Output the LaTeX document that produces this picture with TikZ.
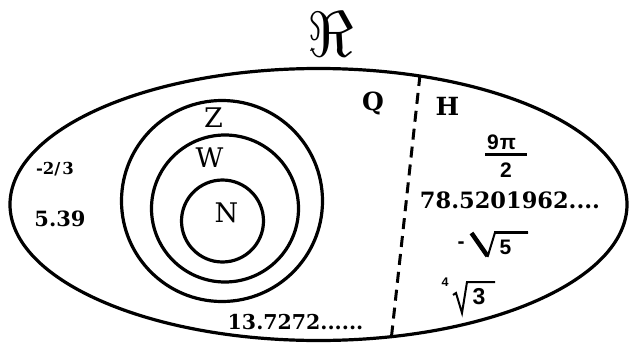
\documentclass[tikz,border=0pt]{standalone}
\usepackage{fontspec}
\usetikzlibrary{shapes.geometric}
\newfontfamily\dserif{DejaVu Serif}
\newfontfamily\lsans{Liberation Sans}
\tikzset{
 every node/.style={inner sep=0pt, outer sep=0pt},
 setline/.style={draw, line width=3.2pt},
 letter/.style={font=\dserif\fontsize{27}{29}\selectfont},
 bletter/.style={font=\dserif\bfseries\fontsize{25}{27}\selectfont},
 num/.style={font=\dserif\bfseries\fontsize{#1}{#1}\selectfont},
 sans/.style={font=\lsans\bfseries\fontsize{#1}{#1}\selectfont},
 divider/.style={line width=3pt, dash pattern=on 11pt off 7pt},
 radthick/.style={line width=4.5pt},
 radthin/.style={line width=2pt},
 bar/.style={line width=3pt}
}
\begin{document}
\begin{tikzpicture}[x=1pt,y=-1pt]
\useasboundingbox (0,0) rectangle (630,343);
% universe
\node[setline, ellipse, minimum width=617pt, minimum height=272pt] (R) at (318.5,204.5) {};
\node[scale=6.4] (Rlabel) at (331,34.5) {$\Re$};
% nested sets
\node[setline, circle, minimum size=201pt] (Zset) at (222,201) {};
\node[setline, circle, minimum size=147pt] (Wset) at (225,208.5) {};
\node[setline, circle, minimum size=82pt] (Nset) at (222.5,221) {};
\node[letter] (Z) at (213.5,117.5) {Z};
\node[letter] (W) at (209.5,158) {W};
\node[letter] (N) at (226.5,213) {N};
% divider
\coordinate (dtop) at (420,75);
\coordinate (dbot) at (391,341);
\draw[divider] (dtop) -- (dbot);
\node[bletter] (Q) at (373,103.5) {Q};
\node[bletter] (H) at (447.5,106.5) {H};
% rational numbers
\node[num=16.5] (r1) at (55,169) {-2/\kern2pt3};
\node[num=21] (r2) at (60,219) {5.39};
\node[num=20.5] (r3) at (295.5,322.5) {13.7272......};
% irrational numbers
\node[sans=21] (pinum) at (501.5,142.5) {9\kern1ptπ};
\draw[bar] (485,154.5) -- (527,154.5);
\node[sans=21] (piden) at (506,170.5) {2};
\node[num=22.5] (i2) at (510,200) {78.5201962....};
\node[sans=21] (minus) at (461,245) {-};
\draw[radthick] (471.5,233) -- (487.5,256);
\draw[radthin, line join=miter] (487.5,257) -- (495,232.5) -- (528,232.5);
\draw[bar] (494,232.5) -- (528,232.5);
\node[sans=21] (five) at (505.5,247.5) {5};
\node[sans=12.5] (four) at (445,282.5) {4};
\draw[radthin, line join=miter] (453,295) -- (456,293) -- (462,313) -- (467,282) -- (495,282);
\node[sans=23] (three) at (479,296.5) {3};
\end{tikzpicture}
\end{document}
